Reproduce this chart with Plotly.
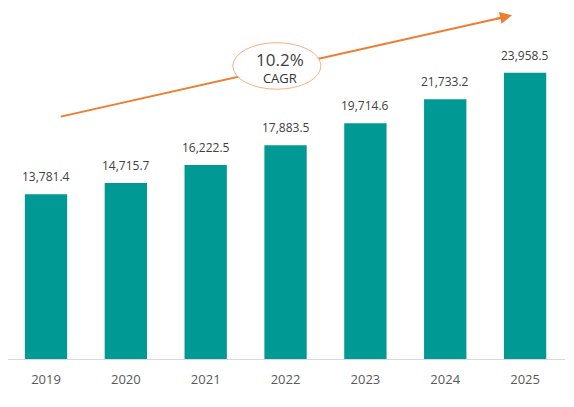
import plotly.graph_objects as go

years = ["2019", "2020", "2021", "2022", "2023", "2024", "2025"]
values = [13781.4, 14715.7, 16222.5, 17883.5, 19714.6, 21733.2, 23958.5]
cagr_text = "10.2%"
cagr_label = "CAGR"

bar_color = "#009993"
orange = "#ED7D31"

fig = go.Figure()
fig.add_trace(go.Bar(x=years, y=values, marker_color=bar_color, marker_line_width=0))

# value labels above the bars (category index, years look numeric to plotly)
for i, v in enumerate(values):
    fig.add_annotation(x=i, y=v, text=f"{v:,.1f}", showarrow=False,
                       yanchor="bottom", yshift=7,
                       font=dict(family="Open Sans", size=12, color="#404040"))

# growth arrow: line below the ellipse, head as an annotation
fig.add_shape(type="line", xref="paper", yref="paper",
              x0=0.0947, y0=0.6945, x1=0.8838, y1=0.9773,
              line=dict(color=orange, width=2))
fig.add_shape(type="circle", xref="paper", yref="paper",
              x0=0.4036, x1=0.5617, y0=0.773, y1=0.9064,
              fillcolor="white", line=dict(color="#F4B183", width=1))
fig.add_annotation(xref="paper", yref="paper", x=0.9048, y=0.9848,
                   ax=-18, ay=4, text="", showarrow=True,
                   arrowhead=2, arrowsize=1.2, arrowwidth=2, arrowcolor=orange)

# CAGR bubble text, one annotation so the two lines sit tight
fig.add_annotation(xref="paper", yref="paper", x=0.4886, y=0.835,
                   text=f"<span style='font-size:17px;color:#404040'>{cagr_text}</span><br>{cagr_label}",
                   showarrow=False, yanchor="middle",
                   font=dict(family="Open Sans", size=13, color="#333333"))

fig.update_layout(
    width=574, height=407,
    margin=dict(l=0, r=17, t=2, b=56),
    paper_bgcolor="white", plot_bgcolor="white",
    bargap=0.47, showlegend=False,
)
fig.update_xaxes(type="category", range=[-0.476, 6.5], showline=True,
                 linecolor="#D9D9D9", linewidth=1,
                 showgrid=False, ticks="", ticklabelstandoff=8,
                 tickfont=dict(family="Open Sans", size=13, color="#595959"))
fig.update_yaxes(range=[0, 29200], visible=False, showgrid=False)

fig.write_html("out.html")
